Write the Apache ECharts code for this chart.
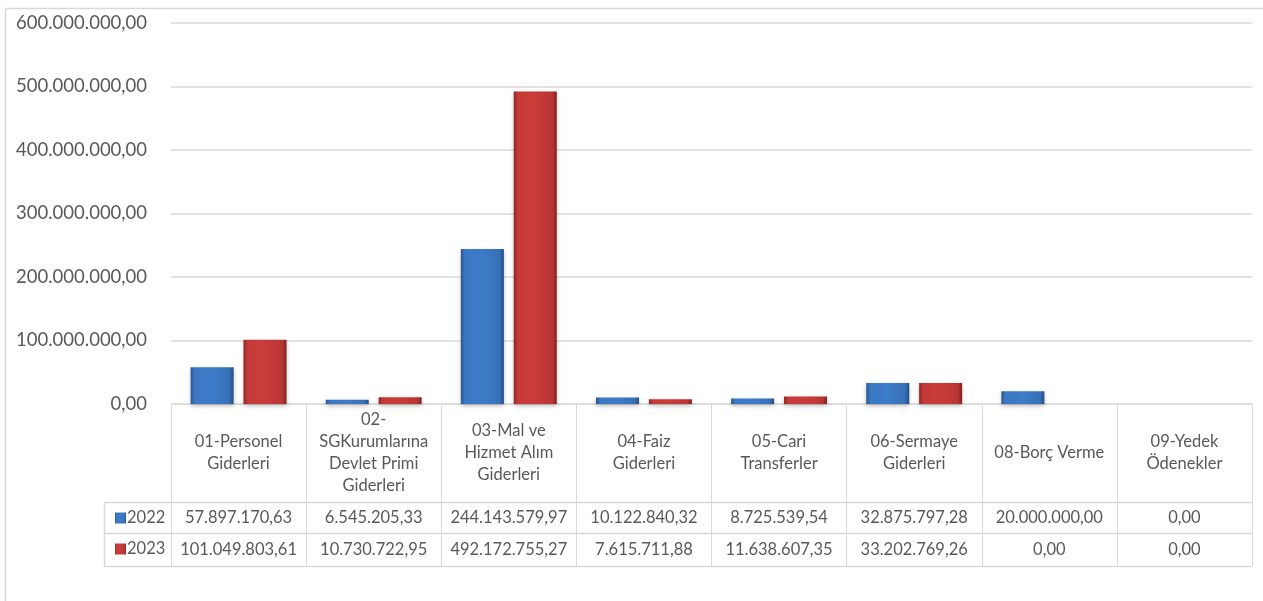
<!DOCTYPE html>
<html>
<head>
<meta charset="utf-8">
<script src="https://cdn.jsdelivr.net/npm/echarts@6/dist/echarts.min.js"></script>
<style>
html,body{margin:0;padding:0;background:#fff;}
#c{width:1263px;height:601px;}
</style>
</head>
<body>
<div id="c"></div>
<script>
// ---- data ----
const categories = [
  '01-Personel\nGiderleri',
  '02-\nSGKurumlarına\nDevlet Primi\nGiderleri',
  '03-Mal ve\nHizmet Alım\nGiderleri',
  '04-Faiz\nGiderleri',
  '05-Cari\nTransferler',
  '06-Sermaye\nGiderleri',
  '08-Borç Verme',
  '09-Yedek\nÖdenekler'
];
const seriesNames = ['2022', '2023'];
const values2022 = [57897170.63, 6545205.33, 244143579.97, 10122840.32, 8725539.54, 32875797.28, 20000000.00, 0.00];
const values2023 = [101049803.61, 10730722.95, 492172755.27, 7615711.88, 11638607.35, 33202769.26, 0.00, 0.00];
const yTicks = { min: 0, max: 600000000, interval: 100000000 };

// ---- helpers ----
function fmtTR(v) {
  const neg = v < 0;
  v = Math.abs(v);
  let s = v.toFixed(2);
  let [ip, dp] = s.split('.');
  ip = ip.replace(/\B(?=(\d{3})+(?!\d))/g, '.');
  return (neg ? '-' : '') + ip + ',' + dp;
}

// ---- layout ----
const GL = 171, GR = 1252, GT = 23, GB = 404;
const ROW1 = 502, ROW2 = 533, ROW3 = 566, LEGX = 104;
const TXT = '#595959', LINE = '#d9d9d9';
const FONT = 'Lato';

const blueGrad = new echarts.graphic.LinearGradient(0, 0, 1, 0, [
  {offset: 0, color: '#2a5690'},
  {offset: 0.1, color: '#3b78c4'},
  {offset: 0.5, color: '#3d7cc9'},
  {offset: 0.9, color: '#3770b6'},
  {offset: 1, color: '#244c80'}
]);
const redGrad = new echarts.graphic.LinearGradient(0, 0, 1, 0, [
  {offset: 0, color: '#8e2625'},
  {offset: 0.1, color: '#c63b39'},
  {offset: 0.5, color: '#c83c3a'},
  {offset: 0.9, color: '#b83533'},
  {offset: 1, color: '#7e2120'}
]);

const chart = echarts.init(document.getElementById('c'), null, {renderer: 'canvas'});

function valueAxis(idx, arr, margin) {
  return {
    type: 'category', gridIndex: 0, position: 'bottom', data: categories,
    axisLine: {show: false}, axisTick: {show: false}, splitLine: {show: false},
    axisLabel: {
      interval: 0, margin: margin, color: TXT, fontFamily: FONT, fontSize: 16.5,
      verticalAlign: 'middle',
      formatter: function (v, i) { return fmtTR(arr[i]); }
    }
  };
}

const option = {
  backgroundColor: '#fff',
  animation: false,
  grid: {left: GL, right: 1263 - GR, top: GT, bottom: 601 - GB, containLabel: false},
  legend: {
    orient: 'vertical', left: 110, top: 503, itemGap: 11,
    itemWidth: 11, itemHeight: 11, icon: 'rect',
    textStyle: {color: TXT, fontFamily: FONT, fontSize: 16.5, lineHeight: 20, padding: [0, 0, 0, -4]},
    data: seriesNames
  },
  xAxis: [
    {
      type: 'category', data: categories, gridIndex: 0, position: 'bottom',
      axisLine: {show: true, lineStyle: {color: LINE, width: 1}},
      axisTick: {show: true, alignWithLabel: false, length: ROW3 - GB, lineStyle: {color: LINE, width: 1}},
      axisLabel: {interval: 0, margin: 49, color: TXT, fontFamily: FONT, fontSize: 16.5, lineHeight: 22, verticalAlign: 'middle', align: 'center'}
    },
    valueAxis(1, values2022, (ROW1 + ROW2) / 2 - GB),
    valueAxis(2, values2023, (ROW2 + ROW3) / 2 - GB)
  ],
  yAxis: {
    type: 'value', min: yTicks.min, max: yTicks.max, interval: yTicks.interval,
    axisLine: {show: false}, axisTick: {show: false},
    splitLine: {lineStyle: {color: LINE, width: 1.5}},
    axisLabel: {color: TXT, fontFamily: FONT, fontSize: 18.5, margin: 24, formatter: fmtTR}
  },
  series: [
    {
      name: seriesNames[0], type: 'bar', data: values2022, barWidth: 43, barGap: '23%',
      itemStyle: {color: blueGrad, shadowColor: 'rgba(0,0,0,0.25)', shadowBlur: 4, shadowOffsetY: 2}
    },
    {
      name: seriesNames[1], type: 'bar', data: values2023, barWidth: 43, barGap: '23%',
      itemStyle: {color: redGrad, shadowColor: 'rgba(0,0,0,0.25)', shadowBlur: 4, shadowOffsetY: 2}
    }
  ],
  graphic: [
    {type: 'line', shape: {x1: 5.5, y1: 8.5, x2: 1263, y2: 8.5}, style: {stroke: LINE, lineWidth: 1.5}, silent: true},
    {type: 'line', shape: {x1: 5.5, y1: 8.5, x2: 5.5, y2: 601}, style: {stroke: LINE, lineWidth: 1.5}, silent: true},
    {type: 'line', shape: {x1: LEGX, y1: ROW1 + 0.5, x2: GR, y2: ROW1 + 0.5}, style: {stroke: LINE, lineWidth: 1.5}, silent: true},
    {type: 'line', shape: {x1: LEGX, y1: ROW2 + 0.5, x2: GR, y2: ROW2 + 0.5}, style: {stroke: LINE, lineWidth: 1.5}, silent: true},
    {type: 'line', shape: {x1: LEGX, y1: ROW3 + 0.5, x2: GR, y2: ROW3 + 0.5}, style: {stroke: LINE, lineWidth: 1.5}, silent: true},
    {type: 'line', shape: {x1: LEGX + 0.5, y1: ROW1, x2: LEGX + 0.5, y2: ROW3}, style: {stroke: LINE, lineWidth: 1.5}, silent: true}
  ]
};
chart.setOption(option);
</script>
</body>
</html>
